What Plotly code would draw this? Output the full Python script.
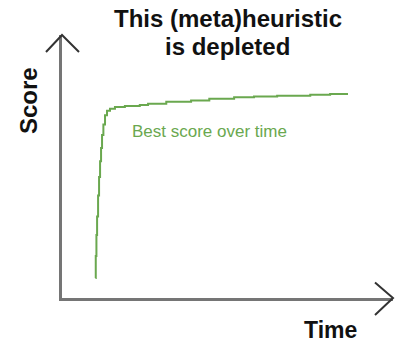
import plotly.graph_objects as go

# Best score over time (staircase)
time = [10.1, 10.2, 10.4, 10.6, 10.9, 11.2, 11.5, 11.8, 12.1, 12.5, 13.0, 13.6, 14.5,
        16.0, 19.0, 23.5, 26.0, 31.5, 39.0, 44.5, 52.0, 58.0, 65.0, 75.0, 81.0, 86.4]
score = [7.6, 16, 24, 31, 39, 46, 52, 57, 62, 66, 69.5, 71.2, 72.0,
         72.6, 73.0, 73.4, 73.9, 74.6, 75.1, 75.8, 76.3, 76.6, 76.9, 77.3, 77.6, 77.6]

title_lines = ["This (meta)heuristic", "is depleted"]
x_label = "Time"
y_label = "Score"
series_label = "Best score over time"

GREEN = "#6aa84f"
GRAY = "#757575"
FONT = "Liberation Sans, Arial, sans-serif"

W, H = 401, 342
L, R, T, B = 62, 8, 35, 44
PW, PH = W - L - R, H - T - B


def px(xp):
    return (xp - L) / PW


def py(yp):
    return (H - B - yp) / PH


fig = go.Figure()
fig.add_trace(go.Scatter(x=time, y=score, mode="lines", line=dict(color=GREEN, width=2, shape="hv"),
                         hoverinfo="skip", showlegend=False))

fig.update_xaxes(range=[0, 100], showline=True, linecolor=GRAY, linewidth=3, showgrid=False,
                 zeroline=False, showticklabels=False, ticks="", fixedrange=True)
fig.update_yaxes(range=[0, 100], showline=True, linecolor=GRAY, linewidth=3, showgrid=False,
                 zeroline=False, showticklabels=False, ticks="", fixedrange=True)

arrow = dict(type="path", xref="paper", yref="paper", line=dict(color="#333333", width=2))
fig.add_shape(path=f"M {px(46)} {py(52)} L 0 1 L {px(79)} {py(52)}", **arrow)
fig.add_shape(path=f"M {px(375)} {py(282.5)} L 1 0 L {px(375)} {py(315)}", **arrow)

ann = []
ann.append(dict(text=f"<b>{title_lines[0]}</b>", x=px(227.5), y=py(19), xref="paper", yref="paper",
                showarrow=False, xanchor="center", yanchor="middle", font=dict(size=24, color="#111111", family=FONT)))
ann.append(dict(text=f"<b>{title_lines[1]}</b>", x=px(227), y=py(47), xref="paper", yref="paper",
                showarrow=False, xanchor="center", yanchor="middle", font=dict(size=24, color="#111111", family=FONT)))
ann.append(dict(text=f"<b>{y_label}</b>", x=px(28), y=py(101), xref="paper", yref="paper", textangle=-90,
                showarrow=False, xanchor="center", yanchor="middle", font=dict(size=24, color="#111111", family=FONT)))
ann.append(dict(text=f"<b>{x_label}</b>", x=px(330), y=py(330), xref="paper", yref="paper",
                showarrow=False, xanchor="center", yanchor="middle", font=dict(size=23, color="#111111", family=FONT)))
ann.append(dict(text=series_label, x=20.5, y=63.5, xref="x", yref="y",
                showarrow=False, xanchor="left", yanchor="middle", font=dict(size=17, color=GREEN, family=FONT)))

fig.update_layout(width=W, height=H, margin=dict(l=L, r=R, t=T, b=B), paper_bgcolor="white",
                  plot_bgcolor="white", annotations=ann, showlegend=False)

fig.write_html("out.html", config={"displayModeBar": False},
               post_script="document.body.style.margin='0';document.body.style.overflow='hidden';")
